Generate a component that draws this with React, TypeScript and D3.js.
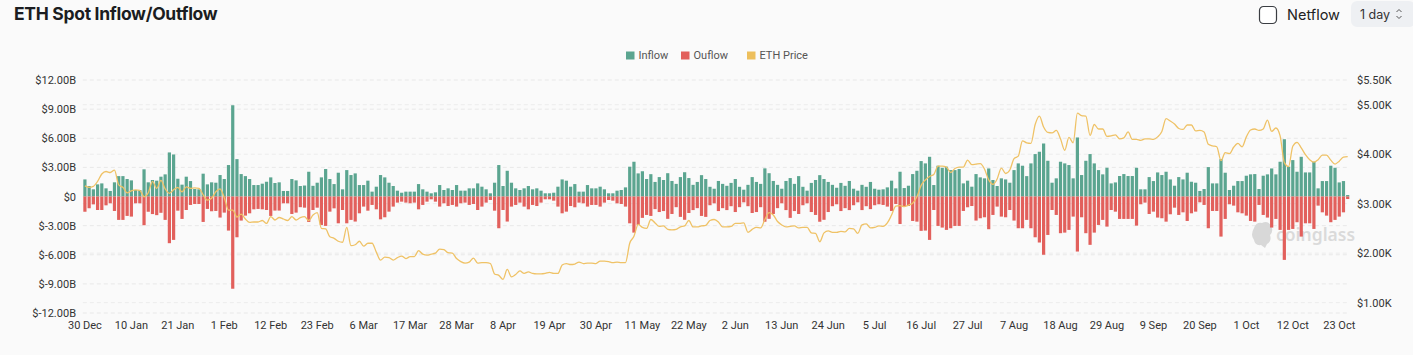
import React from "react";
import * as d3 from "d3";

// ---------- DATA ----------
const START_DATE = new Date(2024, 11, 30); // 30 Dec 2024, one category per day

// Inflow in $B (daily)
const inflow: number[] = [
  1.76,1.08,0.74,1.25,1.35,0.84,0.57,1.46,2.1,2.1,1.8,1.66,0.67,0.67,2.8,1.46,1.7,1.63,2.04,2.28,
  4.54,4.33,1.83,1.22,2.04,1.59,0.77,0.74,2.35,1.25,1.46,1.42,2.21,1.8,3.24,9.4,3.85,2.31,2.1,1.8,
  1.18,1.18,1.32,1.52,1.97,1.39,1.46,0.57,0.57,1.8,1.66,1.08,1.13,2.55,1.1,1.42,
  1.97,2.83,1.8,1.28,2.45,0.74,2.72,2.21,2.38,1.18,1.18,1.63,0.5,1.01,2.21,1.97,1.42,1.08,0.6,0.39,
  0.5,0.5,0.5,1.28,0.74,0.5,0.33,0.43,1.18,0.67,0.84,0.67,1.18,0.6,0.6,0.84,0.84,1.35,1.01,0.74,
  0.33,1.42,3.24,1.08,2.65,1.42,0.84,0.67,0.84,1.08,0.74,0.84,0.6,0.33,0.33,0.39,1.01,1.76,1.63,1.01,
  1.28,0.5,0.5,1.18,0.84,0.84,1.01,0.74,0.33,0.33,0.6,0.67,0.94,3.07,3.58,2.38,
  2.6,1.8,2.3,1.5,2.0,1.7,2.4,1.6,1.3,2.0,2.5,1.9,1.2,1.5,2.2,1.8,1.0,0.8,1.6,1.3,
  1.1,1.4,1.8,1.0,0.7,1.2,2.0,1.5,1.3,2.9,2.4,1.6,1.2,0.8,1.6,1.9,1.3,2.1,1.0,0.6,
  1.4,1.7,2.2,1.8,1.5,1.2,0.9,1.4,1.1,1.6,0.8,0.6,1.2,1.0,1.5,0.8,0.7,
  0.74,0.94,1.63,0.84,2.55,0.87,1.11,2.31,2.65,3.65,3.41,4.09,1.18,3.17,2.96,3.07,2.72,2.72,2.83,1.35,
  1.63,1.01,2.31,1.97,1.87,2.89,1.7,1.08,1.87,1.76,1.42,2.72,3.41,3.17,2.1,3.41,4.37,4.61,5.46,3.68,
  1.42,1.87,3.58,3.41,3.24,1.87,6.08,2.21,3.68,4.37,3.41,2.72,
  2.28,2.96,1.35,1.45,2.11,2.31,2.11,2.11,2.96,0.74,0.74,2.0,1.59,2.48,2.21,2.55,1.76,1.11,2.0,1.76,
  2.45,1.52,1.42,0.57,0.77,3.03,1.35,1.35,3.85,2.45,0.67,1.11,1.59,1.59,2.14,2.28,2.31,0.77,2.14,2.28,
  2.89,2.28,3.58,5.9,3.07,3.75,2.55,4.09,2.48,2.48,3.58,0.84,1.59,1.59,3.17,2.96,1.45,1.59,0.15,
];

// Outflow in $B (daily, negative)
const outflow: number[] = [
  -1.57,-1.21,-0.81,-1.39,-1.39,-0.91,-0.7,-1.49,-2.41,-2.41,-2.0,-2.07,-0.7,-0.7,-2.96,-1.57,-1.81,-1.92,-1.68,-2.41,
  -4.81,-4.47,-1.46,-2.31,-1.39,-0.87,-0.77,-0.77,-2.62,-1.28,-1.52,-1.49,-2.17,-1.66,-3.51,-9.5,-4.2,-2.48,-1.97,-1.73,
  -1.32,-1.28,-1.32,-1.39,-2.0,-1.45,-1.45,-0.7,-0.7,-1.8,-1.66,-1.1,-1.15,-2.62,-1.39,-1.15,
  -2.93,-3.03,-1.56,-1.22,-2.76,-1.39,-2.76,-2.41,-2.58,-1.73,-1.04,-1.46,-0.87,-1.32,-2.35,-2.14,-1.56,-1.04,-0.63,-0.53,
  -0.63,-0.7,-0.63,-1.32,-0.87,-0.53,-0.29,-0.53,-1.04,-0.7,-0.98,-0.87,-1.04,-0.7,-0.63,-0.87,-0.77,-1.39,-1.04,-0.63,
  -0.36,-1.46,-3.27,-1.39,-2.58,-1.04,-0.87,-0.63,-1.04,-1.32,-0.87,-0.98,-0.63,-0.29,-0.29,-0.43,-1.04,-1.73,-1.56,-0.98,
  -1.11,-0.63,-0.7,-1.04,-0.87,-0.87,-1.04,-0.63,-0.36,-0.43,-0.7,-0.77,-1.04,-2.76,-3.72,-2.93,
  -2.2,-1.9,-2.0,-1.3,-1.6,-1.5,-2.3,-1.8,-1.1,-2.1,-2.4,-1.7,-1.4,-1.2,-2.0,-2.1,-0.9,-0.7,-1.5,-1.2,
  -1.4,-1.0,-1.6,-1.1,-0.6,-1.0,-1.7,-1.6,-1.1,-2.6,-2.3,-1.8,-1.2,-0.7,-1.4,-2.2,-1.5,-1.8,-0.9,-0.7,
  -1.6,-1.9,-2.6,-2.4,-1.6,-1.0,-0.8,-1.5,-1.2,-1.4,-0.9,-0.6,-1.4,-1.0,-1.3,-0.9,-0.8,
  -0.87,-1.04,-1.49,-0.77,-2.83,-0.98,-0.98,-2.52,-2.59,-3.54,-3.51,-4.47,-1.39,-3.03,-3.2,-3.44,-3.27,-3.03,-3.03,-1.49,
  -1.11,-0.98,-2.48,-2.24,-2.14,-3.37,-1.9,-1.04,-2.07,-2.14,-1.39,-2.48,-3.27,-3.27,-2.41,-3.27,-4.2,-4.74,-6.0,-3.96,
  -1.39,-1.9,-3.78,-3.72,-3.44,-2.07,-5.67,-2.14,-3.78,-4.98,-3.72,-2.93,
  -2.41,-3.1,-1.39,-1.56,-2.31,-2.31,-2.31,-2.31,-3.0,-0.8,-0.63,-1.8,-1.56,-2.17,-2.24,-2.59,-1.83,-1.15,-1.9,-1.63,
  -2.52,-1.73,-1.56,-0.6,-0.87,-3.27,-1.49,-1.49,-4.13,-2.31,-0.8,-0.94,-1.63,-1.73,-1.97,-2.52,-2.59,-0.87,-1.9,-2.17,
  -3.2,-2.31,-3.44,-6.53,-3.44,-3.34,-2.65,-4.13,-2.76,-2.76,-3.34,-0.94,-1.63,-1.97,-2.65,-2.41,-2.07,-1.63,-0.26,
];

// ETH price in $K (daily)
const ethPrice: number[] = [
  3.36,3.33,3.35,3.45,3.6,3.65,3.63,3.68,3.38,3.33,3.22,3.26,3.28,3.27,3.14,3.22,3.45,3.31,3.47,3.3,
  3.21,3.28,3.33,3.24,3.34,3.31,3.32,3.31,3.18,3.07,3.11,3.24,3.3,3.12,2.87,2.87,2.73,2.79,2.69,2.62,
  2.63,2.63,2.66,2.6,2.74,2.67,2.72,2.69,2.66,2.74,2.67,2.72,2.74,2.66,2.77,2.82,2.5,2.49,2.33,2.3,
  2.24,2.22,2.52,2.15,2.17,2.24,2.14,2.2,2.2,2.02,1.86,1.92,1.91,1.86,1.91,1.94,1.89,1.93,1.93,2.05,
  1.98,1.96,1.98,2.0,2.08,2.07,2.01,2.0,1.89,1.83,1.8,1.82,1.9,1.8,1.81,1.81,1.79,1.58,1.55,1.47,
  1.67,1.52,1.57,1.64,1.59,1.62,1.59,1.58,1.58,1.59,1.61,1.59,1.59,1.76,1.79,1.77,1.78,1.82,1.79,1.8,
  1.8,1.79,1.84,1.84,1.83,1.81,1.82,1.81,1.81,2.2,2.34,2.58,2.52,2.5,2.68,2.61,2.54,2.55,2.48,2.47,
  2.48,2.53,2.55,2.66,2.53,2.53,2.55,2.56,2.66,2.68,2.63,2.53,2.53,2.54,2.6,2.6,2.61,2.42,2.48,2.52,
  2.51,2.68,2.82,2.77,2.64,2.57,2.53,2.54,2.55,2.51,2.52,2.52,2.41,2.4,2.23,2.41,2.45,2.42,2.42,2.44,
  2.43,2.5,2.49,2.4,2.57,2.59,2.51,2.52,2.55,2.54,2.61,2.77,2.95,2.96,2.94,2.97,3.01,3.14,3.37,3.48,
  3.55,3.59,3.76,3.76,3.74,3.63,3.71,3.74,3.74,3.88,3.79,3.8,3.81,3.7,3.48,3.39,3.5,3.72,3.61,3.68,
  3.91,3.96,4.27,4.23,4.22,4.6,4.77,4.55,4.44,4.43,4.48,4.31,4.08,4.34,4.23,4.83,4.78,4.77,4.38,4.6,
  4.51,4.51,4.36,4.37,4.39,4.31,4.33,4.45,4.3,4.3,4.28,4.31,4.31,4.3,4.35,4.46,4.72,4.67,4.61,4.52,
  4.5,4.59,4.59,4.47,4.48,4.45,4.2,4.17,4.15,3.87,4.03,4.01,4.14,4.22,4.15,4.35,4.49,4.51,4.48,4.51,
  4.69,4.46,4.53,4.37,3.83,3.75,4.16,4.24,4.13,3.99,3.89,3.84,3.89,3.98,3.98,3.88,3.8,3.86,3.94,3.95,
];

const xTickLabels = [
  "30 Dec","10 Jan","21 Jan","1 Feb","12 Feb","23 Feb","6 Mar","17 Mar","28 Mar","8 Apr",
  "19 Apr","30 Apr","11 May","22 May","2 Jun","13 Jun","24 Jun","5 Jul","16 Jul","27 Jul",
  "7 Aug","18 Aug","29 Aug","9 Sep","20 Sep","1 Oct","12 Oct","23 Oct",
];
const X_TICK_EVERY = 11;
const leftTicks = [12, 9, 6, 3, 0, -3, -6, -9, -12];
const rightTicks = [5.5, 5, 4, 3, 2, 1];
const legendItems = [
  { name: "Inflow", color: "#5ba590" },
  { name: "Ouflow", color: "#e2605c" },
  { name: "ETH Price", color: "#edbf5c" },
];

// ---------- LAYOUT ----------
const W = 1413;
const H = 355;
const PL = 82.8;
const PR = 1349.8;
const PT = 80;
const PB = 313;
const AXIS_FONT = "Roboto, 'Noto Sans', sans-serif";

export default function App() {
  const n = inflow.length;
  const cats = d3.range(n);
  const dates = cats.map((i) => d3.timeDay.offset(START_DATE, i));
  const x = d3.scaleBand<number>().domain(cats).range([PL, PR]).paddingInner(0.24).paddingOuter(0.12);
  const yL = d3.scaleLinear().domain([-12, 12]).range([PB, PT]);
  const yR = d3.scaleLinear().domain([0.79, 5.5]).range([PB, PT]);
  const cx = (i: number) => (x(i) as number) + x.bandwidth() / 2;

  const line = d3
    .line<number>()
    .x((_, i) => cx(i))
    .y((d) => yR(d))
    .curve(d3.curveMonotoneX);

  const fmtL = (v: number) => (v === 0 ? "$0" : `$${v.toFixed(2)}B`);
  const fmtR = (v: number) => `$${v.toFixed(2)}K`;

  const legendX = [626, 681, 747];

  return (
    <svg
      width={W}
      height={H}
      style={{ position: "absolute", left: 0, top: 0, display: "block" }}
      data-dates={dates.length}
    >
      <rect x={0} y={0} width={W} height={H} fill="#fafafa" />

      {/* Header */}
      <text x={14} y={20} fontFamily="Inter, 'Noto Sans', sans-serif" fontWeight={700} fontSize={17.5} fill="#1b1d21" letterSpacing={-0.3}>
        ETH Spot Inflow/Outflow
      </text>
      <rect x={1259.5} y={6.5} width={17} height={17} rx={4} fill="#fff" stroke="#3a3d42" strokeWidth={1.2} />
      <text x={1287} y={20} fontFamily="Inter, 'Noto Sans', sans-serif" fontSize={14.5} fill="#222">
        Netflow
      </text>
      <rect x={1351} y={1} width={64} height={26} rx={6} fill="#eef0f3" />
      <text x={1360} y={18.5} fontFamily="Inter, 'Noto Sans', sans-serif" fontSize={12.5} fill="#333">
        1 day
      </text>
      <path d="M1396.5 12 L1399 9.5 L1401.5 12 M1396.5 16 L1399 18.5 L1401.5 16" fill="none" stroke="#555" strokeWidth={1} />

      {/* Legend */}
      {legendItems.map((it, i) => (
        <g key={it.name}>
          <rect x={legendX[i]} y={51.5} width={8.5} height={8} fill={it.color} />
          <text x={legendX[i] + 12.5} y={59} fontFamily={AXIS_FONT} fontSize={11} fill="#555">
            {it.name}
          </text>
        </g>
      ))}

      {/* Gridlines */}
      {leftTicks.map((t) => (
        <line key={"gl" + t} x1={PL} x2={PR} y1={yL(t)} y2={yL(t)} stroke="#e8e8e8" strokeDasharray="4,3" strokeWidth={1} />
      ))}
      {rightTicks.filter((t) => t !== 5.5).map((t) => (
        <line key={"gr" + t} x1={PL} x2={PR} y1={yR(t)} y2={yR(t)} stroke="#ececec" strokeDasharray="4,3" strokeWidth={1} />
      ))}

      {/* Axis labels */}
      {leftTicks.map((t) => (
        <text key={"tl" + t} x={76} y={yL(t) + 4} textAnchor="end" fontFamily={AXIS_FONT} fontSize={11} fill="#333">
          {fmtL(t)}
        </text>
      ))}
      {rightTicks.map((t) => (
        <text key={"tr" + t} x={1357} y={yR(t) + 4} textAnchor="start" fontFamily={AXIS_FONT} fontSize={11} fill="#333">
          {fmtR(t)}
        </text>
      ))}
      {xTickLabels.map((lab, i) => (
        <text key={lab} x={cx(i * X_TICK_EVERY)} y={329} textAnchor="middle" fontFamily={AXIS_FONT} fontSize={11} fill="#333">
          {lab}
        </text>
      ))}

      {/* Watermark */}
      <g>
        <path d="M1254 228 q2 -6 8 -5 q6 -3 9 3 q3 5 -1 9 q2 6 -3 9 l-2 4 l-4 -3 q-6 1 -7 -5 q-4 -5 0 -12 z" fill="#d8d8d8" />
        <text x={1276} y={241} fontFamily="'Noto Sans', sans-serif" fontWeight={600} fontSize={17.5} fill="#dadada">
          coinglass
        </text>
      </g>

      {/* Bars */}
      {inflow.map((v, i) => (
        <rect key={"in" + i} x={x(i)} y={yL(v)} width={x.bandwidth()} height={yL(0) - yL(v)} fill="#5ba590" />
      ))}
      {outflow.map((v, i) => (
        <rect key={"out" + i} x={x(i)} y={yL(0)} width={x.bandwidth()} height={yL(v) - yL(0)} fill="#e2605c" />
      ))}

      {/* Price line */}
      <path d={line(ethPrice) || ""} fill="none" stroke="#efc266" strokeWidth={1.3} strokeLinejoin="round" />
    </svg>
  );
}
